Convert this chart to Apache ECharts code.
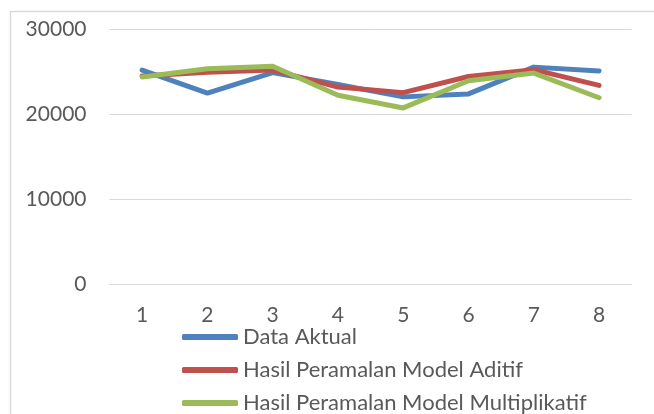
<!DOCTYPE html>
<html>
<head>
<meta charset="utf-8">
<script src="https://cdn.jsdelivr.net/npm/echarts@6/dist/echarts.min.js"></script>
<style>
html,body{margin:0;padding:0;background:#fff;}
#c{width:654px;height:414px;}
</style>
</head>
<body>
<div id="c"></div>
<script>
var categories = ['1','2','3','4','5','6','7','8'];
var dataAktual = [25200, 22500, 24900, 23500, 22050, 22400, 25550, 25100];
var modelAditif = [24500, 24950, 25200, 23200, 22550, 24450, 25250, 23400];
var modelMultiplikatif = [24400, 25350, 25650, 22250, 20750, 23950, 24850, 21950];
var seriesNames = ['Data Aktual', 'Hasil Peramalan Model Aditif', 'Hasil Peramalan Model Multiplikatif'];
var colors = ['#4F81BD', '#C0504D', '#9BBB59'];
var FONT = 'Lato';

var chart = echarts.init(document.getElementById('c'), null, {renderer: 'canvas'});
function mk(name, data, color) {
  return {
    name: name, type: 'line', data: data, symbol: 'none', smooth: false,
    lineStyle: {color: color, width: 5, cap: 'round', join: 'round'},
    itemStyle: {color: color},
    animation: false
  };
}
chart.setOption({
  animation: false,
  color: colors,
  graphic: [{
    type: 'rect', silent: true,
    shape: {x: 10.5, y: 11.5, width: 800, height: 600},
    style: {fill: 'none', stroke: '#d9d9d9', lineWidth: 1.5}
  }],
  grid: {left: 109.5, right: 22.3, top: 29.3, bottom: 129.7, containLabel: false},
  xAxis: {
    type: 'category', data: categories, boundaryGap: true,
    axisLine: {show: true, lineStyle: {color: '#d9d9d9', width: 1}},
    axisTick: {show: false},
    axisLabel: {color: '#595959', fontFamily: FONT, fontSize: 21, margin: 20}
  },
  yAxis: {
    type: 'value', min: 0, max: 30000, interval: 10000,
    axisLine: {show: false}, axisTick: {show: false},
    splitLine: {lineStyle: {color: '#d9d9d9', width: 1}},
    axisLabel: {color: '#595959', fontFamily: FONT, fontSize: 21, margin: 23,
      formatter: function (v) { return String(v); }}
  },
  legend: {
    orient: 'vertical', left: 182, top: 326, height: 120, padding: 0,
    itemWidth: 56, itemHeight: 6, itemGap: 11,
    icon: 'roundRect',
    textStyle: {color: '#595959', fontFamily: FONT, fontSize: 22, lineHeight: 22},
    data: seriesNames
  },
  series: [
    mk(seriesNames[0], dataAktual, colors[0]),
    mk(seriesNames[1], modelAditif, colors[1]),
    mk(seriesNames[2], modelMultiplikatif, colors[2])
  ]
});
</script>
</body>
</html>
